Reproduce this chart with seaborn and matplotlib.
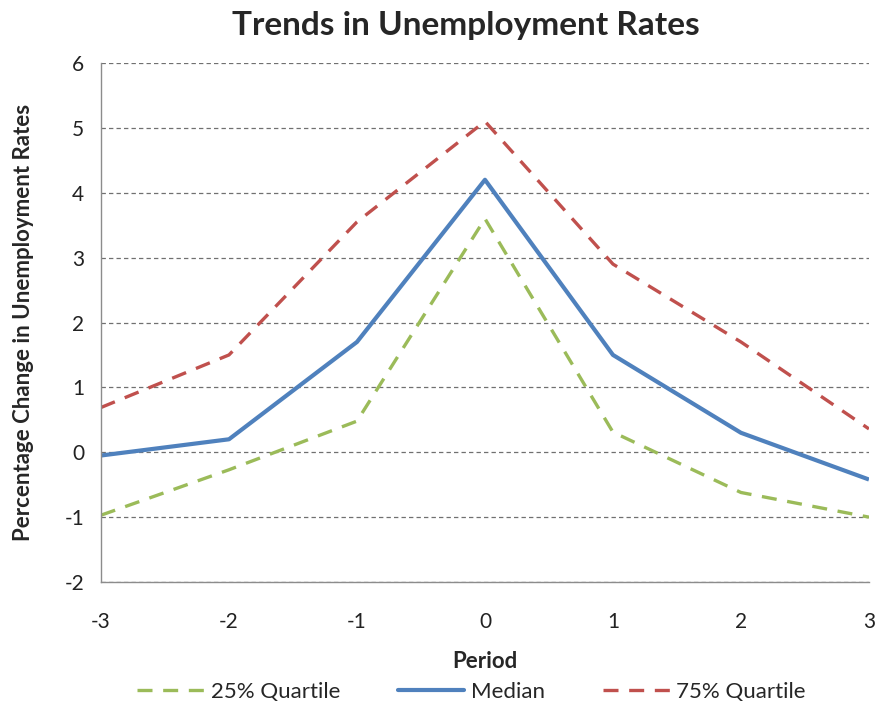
import matplotlib
matplotlib.use("Agg")
import matplotlib.pyplot as plt
from matplotlib.lines import Line2D
import seaborn as sns
import pandas as pd

# Period relative to the event
periods = [-3, -2, -1, 0, 1, 2, 3]

# Percentage change in unemployment rates by quartile
q25 = [-0.97, -0.27, 0.48, 3.6, 0.31, -0.62, -1.0]
median = [-0.05, 0.2, 1.7, 4.2, 1.5, 0.3, -0.42]
q75 = [0.69, 1.5, 3.55, 5.1, 2.9, 1.7, 0.36]

series_names = ["25% Quartile", "Median", "75% Quartile"]
y_ticks = [-2, -1, 0, 1, 2, 3, 4, 5, 6]

df = pd.DataFrame({
    "Period": periods * 3,
    "Value": q25 + median + q75,
    "Series": [series_names[0]] * 7 + [series_names[1]] * 7 + [series_names[2]] * 7,
})

sns.set_style("white")
plt.rcParams["font.family"] = ["Lato", "DejaVu Sans"]

fig = plt.figure(figsize=(8.78, 7.06), dpi=100)
ax = fig.add_axes([0.115, 0.1756, 0.8747, 0.7352])

palette = {"25% Quartile": "#9BBB59", "Median": "#4F81BD", "75% Quartile": "#C0504D"}
sns.lineplot(data=df, x="Period", y="Value", hue="Series", palette=palette,
             hue_order=series_names, ax=ax, legend=False)

styles = {
    "25% Quartile": dict(lw=2.4, dashes=(4.5, 3.2)),
    "Median": dict(lw=3.0, dashes=None),
    "75% Quartile": dict(lw=2.4, dashes=(4.5, 3.2)),
}
for line, name in zip(ax.get_lines(), series_names):
    st = styles[name]
    line.set_linewidth(st["lw"])
    line.set_solid_capstyle("butt")
    line.set_solid_joinstyle("round")
    if st["dashes"]:
        line.set_dashes(st["dashes"])
        line.set_dash_capstyle("butt")

ax.set_xlim(-3, 3)
ax.set_ylim(-2, 6)
ax.set_xticks(periods)
ax.set_yticks(y_ticks)
ax.set_xticklabels([str(p) for p in periods])
ax.set_yticklabels([str(t) for t in y_ticks])

ax.yaxis.grid(True, linestyle=(0, (3.5, 2.5)), color="#707070", linewidth=0.9)
ax.xaxis.grid(False)
ax.set_axisbelow(True)

for side in ["top", "right"]:
    ax.spines[side].set_visible(False)
for side in ["left", "bottom"]:
    ax.spines[side].set_color("#8C8C8C")
    ax.spines[side].set_linewidth(1.0)

ax.tick_params(axis="both", which="major", direction="out", length=6, width=1,
               color="#8C8C8C", labelsize=15, labelcolor="#222222")
ax.tick_params(axis="x", pad=15.5)
ax.tick_params(axis="y", pad=6)

ax.set_xlabel("Period", fontsize=16, fontweight="bold", labelpad=14)
ax.set_ylabel("Percentage Change in Unemployment Rates", fontsize=16,
              fontweight="bold", labelpad=22)
fig.suptitle("Trends in Unemployment Rates", fontsize=24, fontweight="bold",
             x=0.531, y=0.985)

handles = []
for name in series_names:
    st = styles[name]
    h = Line2D([0], [0], color=palette[name], lw=st["lw"])
    if st["dashes"]:
        h.set_dashes(st["dashes"])
    handles.append(h)
fig.legend(handles, series_names, loc="lower center", ncol=3, frameon=False,
           fontsize=16, bbox_to_anchor=(0.537, -0.022), handlelength=3.0,
           columnspacing=2.6, handletextpad=0.3)

fig.savefig("out.png", dpi=100)
